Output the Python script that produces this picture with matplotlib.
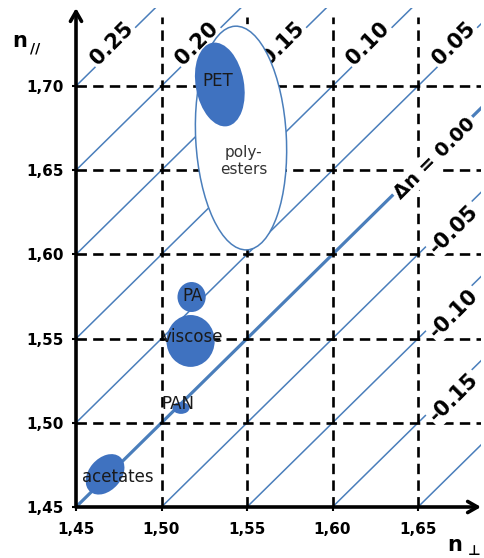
import matplotlib
matplotlib.use("Agg")
import matplotlib.pyplot as plt
from matplotlib.patches import Ellipse

plt.rcParams['font.family'] = ['DejaVu Sans']
plt.rcParams['lines.scale_dashes'] = False

# ---- data ----
x_ticks = [1.45, 1.50, 1.55, 1.60, 1.65]
y_ticks = [1.45, 1.50, 1.55, 1.60, 1.65, 1.70]
tick_labels_x = ["1,45", "1,50", "1,55", "1,60", "1,65"]
tick_labels_y = ["1,45", "1,50", "1,55", "1,60", "1,65", "1,70"]

delta_n = [-0.20, -0.15, -0.10, -0.05, 0.00, 0.05, 0.10, 0.15, 0.20, 0.25]
pos_labels = [0.25, 0.20, 0.15, 0.10, 0.05]
neg_labels = [-0.05, -0.10, -0.15]

# fibre regions: name, cx, cy, width, height, angle
blob_names = ["PET", "PA", "viscose", "PAN", "acetates"]
blob_cx = [1.5341, 1.5176, 1.5170, 1.5114, 1.4670]
blob_cy = [1.7009, 1.5747, 1.5486, 1.5088, 1.4694]
blob_w = [0.0282, 0.0165, 0.0282, 0.0100, 0.0270]
blob_h = [0.0503, 0.0178, 0.0308, 0.0070, 0.0190]
blob_ang = [10, 0, 0, 0, 50]

poly_cx, poly_cy, poly_w, poly_h, poly_ang = 1.5465, 1.6691, 0.053, 0.133, 3

text_names = ["PET", "poly-\nesters", "PA", "viscose", "PAN", "acetates"]
text_x = [1.5330, 1.5482, 1.5184, 1.5178, 1.5096, 1.4746]
text_y = [1.7030, 1.6555, 1.5752, 1.5510, 1.5110, 1.4681]

# ---- style ----
LINE_BLUE = '#4a7ebb'
BLOB_BLUE = '#3f72c0'
W, H = 485, 558

fig = plt.figure(figsize=(W / 100, H / 100), dpi=100)
x0, x1, y0, y1 = 76, 481, 8, 507
ax = fig.add_axes([x0 / W, 1 - y1 / H, (x1 - x0) / W, (y1 - y0) / H])
xmin, xmax = 1.45, 1.45 + (x1 - x0) / 1710
ymin, ymax = 1.45, 1.45 + (y1 - y0) / 1684
ax.set_xlim(xmin, xmax)
ax.set_ylim(ymin, ymax)
for s in ax.spines.values():
    s.set_visible(False)

# diagonal iso-birefringence lines
for d in delta_n:
    xs = [1.40, 1.80]
    ys = [v + d for v in xs]
    ax.plot(xs, ys, color=LINE_BLUE, lw=2.3 if d == 0 else 1.1, zorder=1,
            solid_capstyle='butt')

# dashed grid
for xv in x_ticks[1:]:
    ax.plot([xv, xv], [ymin, 1.741], color='black', lw=1.9,
            linestyle=(0, (7.5, 4.5)), zorder=2)
for yv in y_ticks[1:]:
    ax.plot([xmin, xmax], [yv, yv], color='black', lw=1.9,
            linestyle=(0, (7.5, 4.5)), zorder=2)

# Δn labels
bb = dict(facecolor='white', edgecolor='none', pad=1.5)
ylab = 1.725
for d in pos_labels:
    ax.text(ylab - d - 0.004, ylab, f"{d:.2f}", rotation=45, ha='center',
            va='center', fontsize=15, fontweight='bold', bbox=bb, zorder=3,
            rotation_mode='anchor', clip_on=False)
xlab = 1.671
for d in neg_labels:
    ax.text(xlab, xlab + d - 0.006, f"{d:.2f}", rotation=45, ha='center',
            va='center', fontsize=15, fontweight='bold', bbox=bb, zorder=3,
            rotation_mode='anchor', clip_on=False)
ax.text(1.660, 1.6572, "Δn = 0.00", rotation=45, ha='center', va='center',
        fontsize=14, fontweight='bold', bbox=bb, zorder=3,
        rotation_mode='anchor')

# polyesters envelope
ax.add_patch(Ellipse((poly_cx, poly_cy), poly_w, poly_h, angle=poly_ang,
                     facecolor='white', edgecolor=LINE_BLUE, lw=1.1, zorder=4))
# fibre blobs
for cx, cy, w, h, a in zip(blob_cx, blob_cy, blob_w, blob_h, blob_ang):
    ax.add_patch(Ellipse((cx, cy), w, h, angle=a, facecolor=BLOB_BLUE,
                         edgecolor='none', zorder=5))
for t, tx, ty in zip(text_names, text_x, text_y):
    col = '#333333' if t.startswith('poly') else '#1a1a1a'
    fs = 11 if t.startswith('poly') else 12
    ax.text(tx, ty, t, ha='center', va='center', fontsize=fs, color=col,
            zorder=6, linespacing=1.1)

# ticks
ax.set_xticks(x_ticks)
ax.set_xticklabels(tick_labels_x, fontsize=11, fontweight='bold')
ax.set_yticks(y_ticks)
ax.set_yticklabels(tick_labels_y, fontsize=11, fontweight='bold')
ax.tick_params(axis='x', direction='out', length=3, width=1.5, pad=8)
ax.tick_params(axis='y', direction='out', length=3, width=1.5, pad=6)

# arrow axes
ax.annotate('', xy=(1.0, 0), xytext=(0, 0), xycoords='axes fraction',
            arrowprops=dict(arrowstyle='->,head_length=0.7,head_width=0.4',
                            lw=2.6, color='black', shrinkA=0, shrinkB=0),
            annotation_clip=False, zorder=7)
ax.annotate('', xy=(0, 1.0), xytext=(0, 0), xycoords='axes fraction',
            arrowprops=dict(arrowstyle='->,head_length=0.7,head_width=0.4',
                            lw=2.6, color='black', shrinkA=0, shrinkB=0),
            annotation_clip=False, zorder=7)

# axis titles
fig.text(20 / W, 1 - 41 / H, "n", fontsize=15, fontweight='bold',
         ha='center', va='center')
fig.text(35 / W, 1 - 48 / H, "//", fontsize=10, fontweight='bold',
         ha='center', va='center')
fig.text(455 / W, 1 - 545 / H, "n", fontsize=15, fontweight='bold',
         ha='center', va='center')
fig.text(474 / W, 1 - 551 / H, "⊥", fontsize=10, fontweight='bold',
         ha='center', va='center')

fig.savefig("out.png", dpi=100)
